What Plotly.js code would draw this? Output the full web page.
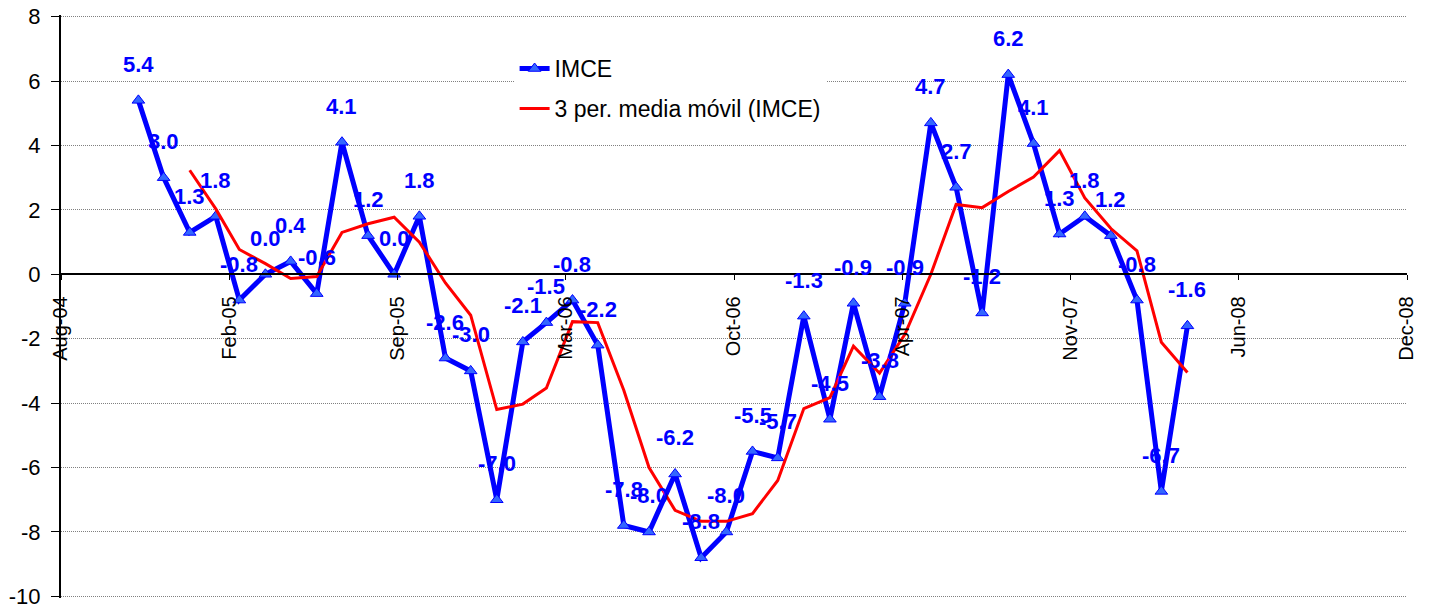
<!DOCTYPE html>
<html lang="es">
<head>
    <meta charset="UTF-8">
    <title>IMCE</title>
    <script src="https://cdn.plot.ly/plotly-3.0.1.min.js"></script>
    <style>
        html, body { margin: 0; padding: 0; background: #fff; }
        #chart { width: 1429px; height: 609px; }
    </style>
</head>
<body>
    <div id="chart"></div>

    <script>
        // meses (nov-2004 a abr-2008)
        const months = [
            '2004-11', '2004-12', '2005-01', '2005-02', '2005-03', '2005-04', '2005-05', '2005-06',
            '2005-07', '2005-08', '2005-09', '2005-10', '2005-11', '2005-12', '2006-01', '2006-02',
            '2006-03', '2006-04', '2006-05', '2006-06', '2006-07', '2006-08', '2006-09', '2006-10',
            '2006-11', '2006-12', '2007-01', '2007-02', '2007-03', '2007-04', '2007-05', '2007-06',
            '2007-07', '2007-08', '2007-09', '2007-10', '2007-11', '2007-12', '2008-01', '2008-02',
            '2008-03', '2008-04'
        ];

        // IMCE
        const imce = [
            5.4, 3.0, 1.3, 1.8, -0.8, 0.0, 0.4, -0.6, 4.1, 1.2, 0.0, 1.8,
            -2.6, -3.0, -7.0, -2.1, -1.5, -0.8, -2.2, -7.8, -8.0, -6.2, -8.8, -8.0,
            -5.5, -5.7, -1.3, -4.5, -0.9, -3.8, -0.9, 4.7, 2.7, -1.2, 6.2, 4.06,
            1.25, 1.8, 1.2, -0.8, -6.74, -1.6
        ];

        // 3 per. media móvil
        const mediaMovil = [
            null, null, 3.23, 2.03, 0.77, 0.33, -0.13, -0.07, 1.30, 1.57, 1.77, 1.00,
            -0.27, -1.27, -4.20, -4.03, -3.53, -1.47, -1.50, -3.60, -6.00, -7.33, -7.67, -7.67,
            -7.43, -6.40, -4.17, -3.83, -2.23, -3.07, -1.87, 0.00, 2.17, 2.07, 2.57, 3.02,
            3.84, 2.37, 1.42, 0.73, -2.11, -3.05
        ];

        // marcas del eje x (cada 200 días)
        const tickDates = ['2004-08-01', '2005-02-17', '2005-09-05', '2006-03-24', '2006-10-10',
                           '2007-04-28', '2007-11-14', '2008-06-01', '2008-12-18'];
        const tickLabels = ['Aug-04', 'Feb-05', 'Sep-05', 'Mar-06', 'Oct-06',
                            'Apr-07', 'Nov-07', 'Jun-08', 'Dec-08'];

        // marcas del eje y
        const yTicks = [-10, -8, -6, -4, -2, 0, 2, 4, 6, 8];
        const yTickLabels = ['-10', '-8', '-6', '-4', '-2', '0', '2', '4', '6', '8'];

        const font = 'Arial, "Liberation Sans", sans-serif';

        const imceTrace = {
            x: months,
            y: imce,
            type: 'scatter',
            mode: 'lines+markers',
            name: 'IMCE',
            legendgroup: 'a',
            line: { color: '#0000ff', width: 5 },
            marker: { symbol: 'triangle-up', size: 11, color: '#3366ff', line: { color: '#0000ff', width: 1 } }
        };

        const maTrace = {
            x: months,
            y: mediaMovil,
            type: 'scatter',
            mode: 'lines',
            name: '3 per. media móvil (IMCE)',
            legendgroup: 'b',
            line: { color: '#ff0000', width: 3 }
        };

        // etiquetas de datos encima de cada punto
        const labels = months.map((m, i) => ({
            x: m,
            y: imce[i],
            text: imce[i].toFixed(1),
            showarrow: false,
            yanchor: 'middle',
            yshift: 36,
            font: { family: font, size: 22, color: '#0000ff', weight: 'bold' }
        }));

        const layout = {
            width: 1429,
            height: 609,
            margin: { l: 61, r: 22, t: 15, b: 11 },
            paper_bgcolor: '#fff',
            plot_bgcolor: '#fff',
            font: { family: font, color: '#000' },
            showlegend: true,
            legend: {
                x: 0.337, y: 0.945, xanchor: 'left', yanchor: 'top',
                bgcolor: '#fff', borderwidth: 0,
                traceorder: 'grouped', tracegroupgap: 7,
                font: { family: font, size: 23, color: '#000' }
            },
            xaxis: {
                type: 'date',
                range: ['2004-08-01', '2008-12-18'],
                tickvals: tickDates,
                ticktext: tickLabels,
                tickangle: -90,
                tickfont: { family: font, size: 20, color: '#000' },
                ticks: 'outside', ticklen: 5, tickcolor: '#000', tickwidth: 1,
                ticklabelstandoff: 8,
                showgrid: false,
                showline: true, linecolor: '#000', linewidth: 2,
                zeroline: false,
                anchor: 'free',
                position: 10.05 / 18.1,
                fixedrange: true
            },
            yaxis: {
                range: [-10.05, 8.05],
                tickvals: yTicks,
                ticktext: yTickLabels,
                tickfont: { family: font, size: 22, color: '#000' },
                ticklabeloverflow: 'allow',
                ticks: 'outside', ticklen: 8, tickcolor: '#000', tickwidth: 1,
                ticklabelstandoff: 6,
                showgrid: true, gridcolor: '#808080', griddash: '1px,1px', gridwidth: 1,
                showline: true, linecolor: '#000', linewidth: 2,
                zeroline: false,
                fixedrange: true
            },
            annotations: labels
        };

        Plotly.newPlot('chart', [imceTrace, maTrace], layout, { displayModeBar: false, staticPlot: true });
    </script>
</body>
</html>
